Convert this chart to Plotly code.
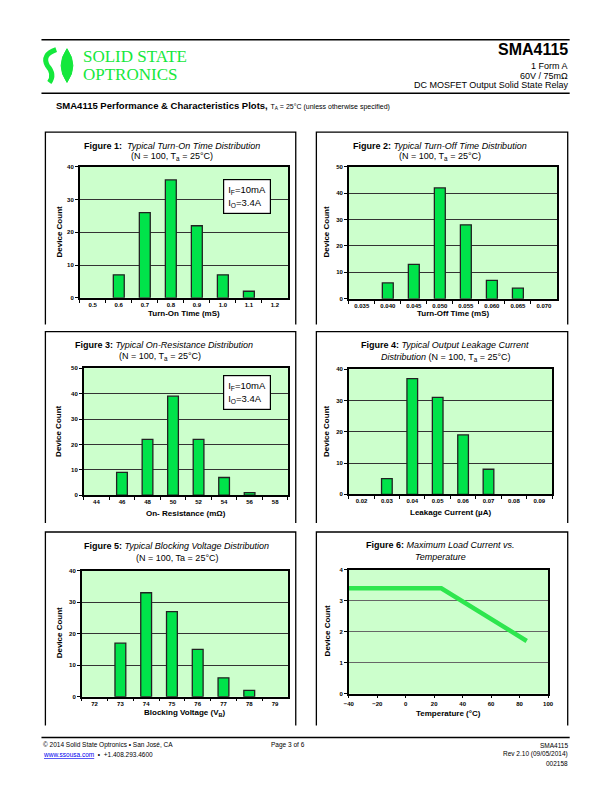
import plotly.graph_objects as go

# ---------------- data ----------------
fig1_labels = ["0.5", "0.6", "0.7", "0.8", "0.9", "1.0", "1.1", "1.2"]
fig1_counts = [0, 7, 26, 36, 22, 7, 2, 0]

fig2_labels = ["0.035", "0.040", "0.045", "0.050", "0.055", "0.060", "0.065", "0.070"]
fig2_counts = [0, 6, 13, 42, 28, 7, 4, 0]

fig3_labels = ["44", "46", "48", "50", "52", "54", "56", "58"]
fig3_counts = [0, 9, 22, 39, 22, 7, 1, 0]

fig4_labels = ["0.02", "0.03", "0.04", "0.05", "0.06", "0.07", "0.08", "0.09"]
fig4_counts = [0, 5, 37, 31, 19, 8, 0, 0]

fig5_labels = ["72", "73", "74", "75", "76", "77", "78", "79"]
fig5_counts = [0, 17, 33, 27, 15, 6, 2, 0]

fig6_temp = [-40, 25, 85]
fig6_current = [3.4, 3.4, 1.7]

# page body has an 8px default margin, so the figure is placed at (8, 8)
OFF = 8
W, H = 612 - OFF, 792 - OFF
FONT = "Liberation Sans, Arial, sans-serif"
BAR_GREEN = "#00E34A"
BG_GREEN = "#CCFFCC"
LOGO_GREEN = "#14E83C"


def fx(p):
    return (p - OFF) / W


def fy(p):
    return 1 - (p - OFF) / H


fig = go.Figure()

bar_sets = [
    (fig1_labels, fig1_counts, "x", "y"),
    (fig2_labels, fig2_counts, "x2", "y2"),
    (fig3_labels, fig3_counts, "x3", "y3"),
    (fig4_labels, fig4_counts, "x4", "y4"),
    (fig5_labels, fig5_counts, "x5", "y5"),
]
for labels, counts, xa, ya in bar_sets:
    widths = [1.3 if c > 0 else 0 for c in counts]
    fig.add_trace(go.Bar(x=labels, y=counts, xaxis=xa, yaxis=ya,
                         marker=dict(color=BAR_GREEN, line=dict(color="#222222", width=widths)),
                         showlegend=False, hoverinfo="x+y"))

fig.add_trace(go.Scatter(x=fig6_temp, y=fig6_current, xaxis="x6", yaxis="y6",
                         mode="lines", line=dict(color="#2EE64E", width=4.5),
                         showlegend=False))

tickfont = dict(family=FONT, size=6, color="black", weight="bold")


def xcat(x0, x1, anchor):
    return dict(domain=[fx(x0), fx(x1)], anchor=anchor, type="category",
                range=[-0.5, 7.5], tickson="boundaries", ticks="outside", ticklen=3,
                tickcolor="black", tickwidth=1, showline=True, mirror=True,
                linecolor="black", linewidth=1.5, showgrid=False, zeroline=False,
                tickfont=tickfont, fixedrange=True)


def yax(y0, y1, anchor, rng, dtick, gridcolor="#333333"):
    return dict(domain=[fy(y1), fy(y0)], anchor=anchor, range=rng, dtick=dtick,
                ticks="outside", ticklen=3, tickcolor="black", tickwidth=1,
                showline=True, mirror=True, linecolor="black", linewidth=1.5,
                showgrid=True, gridcolor=gridcolor, gridwidth=1.2, zeroline=False,
                tickfont=tickfont, fixedrange=True)


layout = dict(
    width=W, height=H, autosize=False,
    margin=dict(l=0, r=0, t=0, b=0),
    paper_bgcolor="white", plot_bgcolor=BG_GREEN,
    bargap=0.58, showlegend=False,
    font=dict(family=FONT, color="black"),
    xaxis=xcat(76, 288, "y"),
    yaxis=yax(165, 297, "x", [0, 40], 10),
    xaxis2=xcat(350, 562, "y2"),
    yaxis2=yax(165, 298, "x2", [0, 50], 10),
    xaxis3=xcat(80, 288, "y3"),
    yaxis3=yax(368, 496, "x3", [0, 50], 10),
    xaxis4=xcat(350, 557, "y4"),
    yaxis4=yax(369, 495, "x4", [0, 40], 10),
    xaxis5=xcat(78, 288, "y5"),
    yaxis5=yax(572, 699, "x5", [0, 40], 10),
    xaxis6=dict(domain=[fx(350), fx(553)], anchor="y6", range=[-40, 100], dtick=20,
                ticks="outside", ticklen=3, tickcolor="black", showline=True, mirror=True,
                linecolor="black", linewidth=1.5, showgrid=False, zeroline=False,
                tickfont=tickfont, fixedrange=True),
    yaxis6=yax(571, 696, "x6", [0, 4], 1, gridcolor="#666666"),
)
fig.update_layout(**layout)

ann = []


def text(x, y, t, size=9, xanchor="center", yanchor="middle", angle=0, color="black", **kw):
    ann.append(dict(x=fx(x), y=fy(y), xref="paper", yref="paper", text=t, showarrow=False,
                    xanchor=xanchor, yanchor=yanchor, textangle=angle,
                    font=dict(family=FONT, size=size, color=color), **kw))


# figure titles
TS = 9
text(170, 144, "<b>Figure 1:</b>&nbsp; <i>Typical Turn-On Time Distribution</i>", TS)
text(170, 155, "(N = 100, T<sub>a</sub> = 25°C)", TS)
text(443, 144, "<b>Figure 2:</b> <i>Typical Turn-Off Time Distribution</i>", TS)
text(443, 155, "(N = 100, T<sub>a</sub> = 25°C)", TS)
text(162, 345, "<b>Figure 3:</b> <i>Typical On-Resistance Distribution</i>", TS)
text(158, 356, "(N = 100, T<sub>a</sub> = 25°C)", TS)
text(448, 345, "<b>Figure 4:</b> <i>Typical Output Leakage Current</i>", TS)
text(449, 357, "<i>Distribution</i> (N = 100, T<sub>a</sub> = 25°C)", TS)
text(175, 547, "<b>Figure 5:</b> <i>Typical Blocking Voltage Distribution</i>", TS)
text(175, 559, "(N = 100, Ta = 25°C)", TS)
text(443, 546, "<b>Figure 6:</b> <i>Maximum Load Current vs.</i>", TS)
text(443, 558, "<i>Temperature</i>", TS)

# axis titles
AS = 8
text(182, 313, "<b>Turn-On Time (mS)</b>", AS)
text(456, 313, "<b>Turn-Off Time (mS)</b>", AS)
text(184, 514, "<b>On- Resistance (mΩ)</b>", AS)
text(454, 513, "<b>Leakage Current (µA)</b>", AS)
text(183, 715, "<b>Blocking Voltage (V<sub>B</sub>)</b>", AS)
text(452, 716, "<b>Temperature (°C)</b>", AS)
text(55, 231, "<b>Device Count</b>", AS, angle=-90)
text(327, 231, "<b>Device Count</b>", AS, angle=-90)
text(55, 432, "<b>Device Count</b>", AS, angle=-90)
text(328, 432, "<b>Device Count</b>", AS, angle=-90)
text(55, 635, "<b>Device Count</b>", AS, angle=-90)
text(328, 633, "<b>Device Count</b>", AS, angle=-90)

# condition boxes
for (bx, by) in [(246, 195), (246, 392)]:
    text(bx, by, "I<sub>F</sub>=10mA<br>I<sub>O</sub>=3.4A", 9.5, align="left",
         bgcolor="white", bordercolor="black", borderwidth=1.2, borderpad=4)

# header
text(575, 47, "<b>SMA4115</b>", 16, xanchor="right")
text(575, 63, "1 Form A", 9, xanchor="right")
text(575, 73, "60V / 75mΩ", 9, xanchor="right")
text(575, 83, "DC MOSFET Output Solid State Relay", 9, xanchor="right")
ann.append(dict(x=fx(77), y=fy(53.5), xref="paper", yref="paper", showarrow=False,
                xanchor="left", yanchor="middle", text="SOLID STATE",
                font=dict(family="Liberation Serif, serif", size=17, color=LOGO_GREEN)))
ann.append(dict(x=fx(77), y=fy(72), xref="paper", yref="paper", showarrow=False,
                xanchor="left", yanchor="middle", text="OPTRONICS",
                font=dict(family="Liberation Serif, serif", size=17, color=LOGO_GREEN)))
text(50, 103, "<b>SMA4115 Performance &amp; Characteristics Plots,</b> "
              "<span style='font-size:7px'>T<sub>A</sub> = 25°C (unless otherwise specified)</span>",
     9.5, xanchor="left")

# footer
text(37, 748, "© 2014 Solid State Optronics • San José, CA", 6.5, xanchor="left")
text(37, 757, "<span style='color:#0000EE'><u>www.ssousa.com</u></span>  •  +1.408.293.4600", 6.5,
     xanchor="left")
text(288, 748, "Page 3 of 6", 6.5)
text(575, 748, "SMA4115", 6.5, xanchor="right")
text(575, 757, "Rev 2.10 (09/05/2014)", 6.5, xanchor="right")
text(575, 766, "002158", 6.5, xanchor="right")

fig.update_layout(annotations=ann)

shapes = []


def hline(x0, x1, y, w=1.5):
    shapes.append(dict(type="line", xref="paper", yref="paper", x0=fx(x0), x1=fx(x1),
                       y0=fy(y), y1=fy(y), line=dict(color="black", width=w)))


hline(37, 575, 37)
hline(37, 575, 91)
hline(37, 575, 740)

# panel frames (left, top, right)
for (x0, x1, y0, y1) in [(41, 296, 130, 324), (317, 573, 130, 324),
                         (41, 296, 331, 524), (317, 573, 331, 524),
                         (41, 296, 533, 728), (317, 573, 533, 728)]:
    path = "M {a},{b} L {a},{c} L {d},{c} L {d},{b}".format(
        a=fx(x0), b=fy(y1), c=fy(y0), d=fx(x1))
    shapes.append(dict(type="path", xref="paper", yref="paper", path=path,
                       line=dict(color="black", width=1.3)))

# logo mark
s_path = "M {},{} Q {},{} {},{} Q {},{} {},{}".format(
    fx(52), fy(47), fx(37), fy(52), fx(43), fy(63),
    fx(51), fy(72), fx(45), fy(80))
shapes.append(dict(type="path", xref="paper", yref="paper", path=s_path,
                   line=dict(color=LOGO_GREEN, width=5)))
leaf = "M {},{} Q {},{} {},{} Q {},{} {},{} Z".format(
    fx(63), fy(46), fx(75), fy(63), fx(63), fy(80),
    fx(51), fy(63), fx(63), fy(46))
shapes.append(dict(type="path", xref="paper", yref="paper", path=leaf,
                   fillcolor=LOGO_GREEN, line=dict(color=LOGO_GREEN, width=1)))

fig.update_layout(shapes=shapes)

fig.write_html("out.html")
